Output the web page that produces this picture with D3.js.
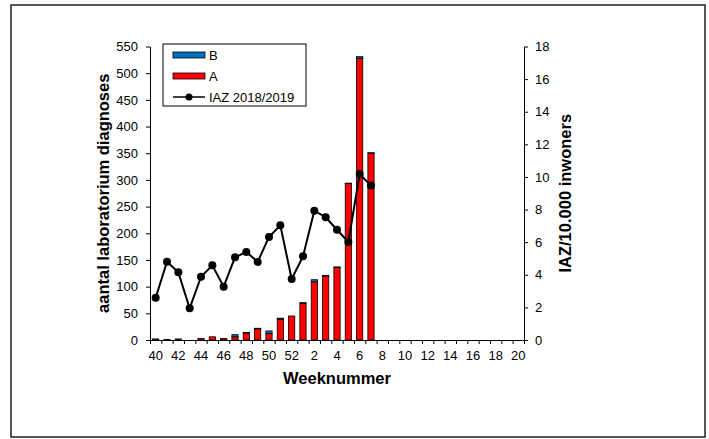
<!DOCTYPE html>
<meta charset="utf-8">
<html>
<head>
<script src="https://d3js.org/d3.v7.min.js"></script>
<style>
  body { margin: 0; background: #fff; }
  text { font-family: Arial, "Liberation Sans", sans-serif; }
  .tick text { font-size: 13px; fill: #000; }
</style>
</head>
<body>
<div id="chart"></div>
<script>
// weeks 40..52 of 2018 and 1..20 of 2019
const weeks = [40,41,42,43,44,45,46,47,48,49,50,51,52,1,2,3,4,5,6,7,8,9,10,11,12,13,14,15,16,17,18,19,20];
const weekLabels = [40,42,44,46,48,50,52,2,4,6,8,10,12,14,16,18,20];

// laboratory diagnoses, influenza A and B (stacked)
const valuesA = [2,1,2,0,3,6,3,6,13,21,12,39,45,69,109,120,136,293,528,350];
const valuesB = [0,0,0,0,0,0,0,4,1,1,5,2,0,1,4,1,1,1,3,1];

// IAZ per 10.000 inhabitants
const iaz = [2.59,4.80,4.15,1.94,3.88,4.58,3.27,5.07,5.40,4.79,6.32,7.03,3.74,5.13,7.93,7.53,6.76,6.01,10.18,9.47];

const leftTicks = [0,50,100,150,200,250,300,350,400,450,500,550];
const rightTicks = [0,2,4,6,8,10,12,14,16,18];

const W = 709, H = 439;
const plot = {left: 150, right: 524, top: 46.5, bottom: 340};

const svg = d3.select("#chart").append("svg")
    .attr("width", W).attr("height", H);

// outer frame
svg.append("rect")
    .attr("x", 11).attr("y", 5)
    .attr("width", 694).attr("height", 432)
    .attr("fill", "#fff")
    .attr("stroke", "#222").attr("stroke-width", 1.5);

// scales
const x = d3.scaleBand()
    .domain(weeks)
    .range([plot.left, plot.right])
    .paddingInner(0.45)
    .paddingOuter(0.225);

const xIdx = d3.scaleLinear()
    .domain([0, weeks.length])
    .range([plot.left, plot.right]);

const y = d3.scaleLinear().domain([0, 550]).range([plot.bottom, plot.top]);
const y2 = d3.scaleLinear().domain([0, 18]).range([plot.bottom, plot.top]);

// bars
const stackData = valuesA.map((a, i) => ({week: weeks[i], A: a, B: valuesB[i]}));
const series = d3.stack().keys(["A", "B"])(stackData);
const colors = {A: "#ff0000", B: "#0070c0"};

svg.append("g")
  .selectAll("g")
  .data(series)
  .join("g")
    .attr("fill", d => colors[d.key])
  .selectAll("rect")
  .data(d => d.filter(s => s[1] > s[0]))
  .join("rect")
    .attr("x", d => x(d.data.week))
    .attr("width", x.bandwidth())
    .attr("y", d => y(d[1]))
    .attr("height", d => y(d[0]) - y(d[1]))
    .attr("stroke", "#000")
    .attr("stroke-width", 0.8);

// x axis: ticks between categories
svg.append("g")
    .attr("transform", `translate(0,${plot.bottom})`)
    .call(d3.axisBottom(xIdx).tickValues(d3.range(weeks.length + 1)).tickFormat("").tickSize(4).tickSizeOuter(0))
    .call(g => g.selectAll("line, path").attr("stroke", "#000"));

svg.append("g")
    .attr("transform", `translate(0,${plot.bottom})`)
    .call(d3.axisBottom(x).tickValues(weekLabels).tickSize(0).tickPadding(11))
    .call(g => g.select(".domain").remove());

// left axis
svg.append("g")
    .attr("transform", `translate(${plot.left},0)`)
    .call(d3.axisLeft(y).tickValues(leftTicks).tickSize(4).tickSizeOuter(0).tickPadding(8))
    .call(g => g.selectAll("line, path").attr("stroke", "#000"));

// right axis
svg.append("g")
    .attr("transform", `translate(${plot.right},0)`)
    .call(d3.axisRight(y2).tickValues(rightTicks).tickSize(4).tickSizeOuter(0).tickPadding(7))
    .call(g => g.selectAll("line, path").attr("stroke", "#000"));

// IAZ line
const line = d3.line()
    .x((d, i) => x(weeks[i]) + x.bandwidth() / 2)
    .y(d => y2(d));

svg.append("path")
    .datum(iaz)
    .attr("fill", "none")
    .attr("stroke", "#000")
    .attr("stroke-width", 2)
    .attr("d", line);

svg.append("g")
  .selectAll("circle")
  .data(iaz)
  .join("circle")
    .attr("cx", (d, i) => x(weeks[i]) + x.bandwidth() / 2)
    .attr("cy", d => y2(d))
    .attr("r", 4)
    .attr("fill", "#000");

// axis titles
svg.append("text")
    .attr("x", (plot.left + plot.right) / 2)
    .attr("y", 384)
    .attr("text-anchor", "middle")
    .attr("font-size", "16.5px")
    .attr("font-weight", "bold")
    .text("Weeknummer");

svg.append("text")
    .attr("transform", `translate(109,${(plot.top + plot.bottom) / 2}) rotate(-90)`)
    .attr("text-anchor", "middle")
    .attr("font-size", "16.5px")
    .attr("font-weight", "bold")
    .text("aantal laboratorium diagnoses");

svg.append("text")
    .attr("transform", `translate(571,${(plot.top + plot.bottom) / 2}) rotate(-90)`)
    .attr("text-anchor", "middle")
    .attr("font-size", "16.5px")
    .attr("font-weight", "bold")
    .text("IAZ/10.000 inwoners");

// legend
const legend = svg.append("g");
legend.append("rect")
    .attr("x", 163).attr("y", 44)
    .attr("width", 143).attr("height", 62)
    .attr("fill", "#fff")
    .attr("stroke", "#000").attr("stroke-width", 1);

const legendItems = [
  {label: "B", type: "bar", color: colors.B, y: 55},
  {label: "A", type: "bar", color: colors.A, y: 76},
  {label: "IAZ 2018/2019", type: "line", y: 97}
];

legendItems.forEach(item => {
  if (item.type === "bar") {
    legend.append("rect")
        .attr("x", 173).attr("y", item.y - 3)
        .attr("width", 32).attr("height", 6)
        .attr("fill", item.color)
        .attr("stroke", "#000").attr("stroke-width", 0.8);
  } else {
    legend.append("line")
        .attr("x1", 173).attr("x2", 205)
        .attr("y1", item.y).attr("y2", item.y)
        .attr("stroke", "#000").attr("stroke-width", 1.5);
    legend.append("circle")
        .attr("cx", 189).attr("cy", item.y).attr("r", 3.5)
        .attr("fill", "#000");
  }
  legend.append("text")
      .attr("x", 209).attr("y", item.y + 5)
      .attr("font-size", "13px")
      .text(item.label);
});
</script>
</body>
</html>
